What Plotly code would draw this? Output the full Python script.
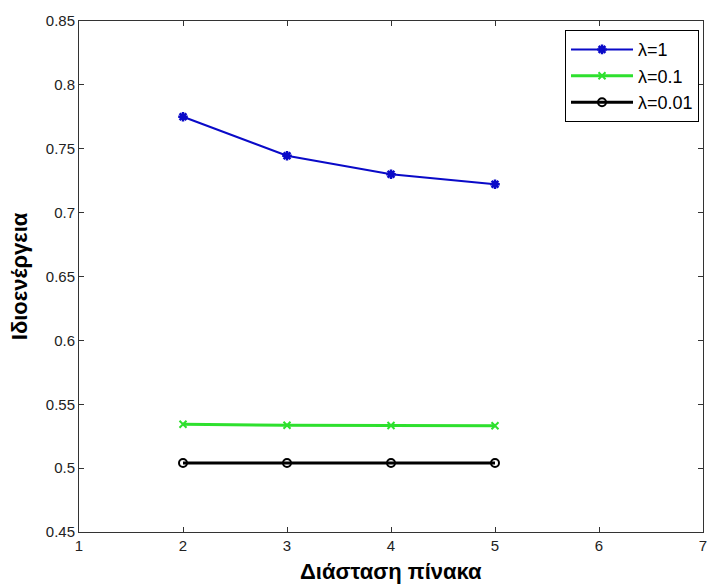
import plotly.graph_objects as go

dims = [2, 3, 4, 5]
lam1 = [0.775, 0.7445, 0.730, 0.7222]
lam01 = [0.5343, 0.5335, 0.5333, 0.5332]
lam001 = [0.5040, 0.5040, 0.5040, 0.5040]
names = ["λ=1", "λ=0.1", "λ=0.01"]
x_ticks = [1, 2, 3, 4, 5, 6, 7]
y_ticks = [0.45, 0.5, 0.55, 0.6, 0.65, 0.7, 0.75, 0.8, 0.85]
y_tick_text = ["0.45", "0.5", "0.55", "0.6", "0.65", "0.7", "0.75", "0.8", "0.85"]

FONT = "Liberation Sans, Arial"

fig = go.Figure()
fig.add_trace(go.Scatter(x=dims, y=lam1, name=names[0], mode="lines+markers", legendgroup="a",
                         line=dict(color="#0a0ac8", width=2),
                         marker=dict(symbol="asterisk-open", size=8, color="#0a0ac8",
                                     line=dict(width=2.5, color="#0a0ac8"))))
fig.add_trace(go.Scatter(x=dims, y=lam01, name=names[1], mode="lines+markers", legendgroup="b",
                         line=dict(color="#2ee02e", width=3),
                         marker=dict(symbol="x-thin-open", size=7, color="#2ee02e",
                                     line=dict(width=2, color="#2ee02e"))))
fig.add_trace(go.Scatter(x=dims, y=lam001, name=names[2], mode="lines+markers", legendgroup="c",
                         line=dict(color="black", width=3),
                         marker=dict(symbol="circle-open", size=8, color="black",
                                     line=dict(width=2, color="black"))))

axis_common = dict(showline=True, linecolor="#333333", linewidth=1, mirror="allticks",
                   ticks="inside", ticklen=5, tickcolor="#333333", showgrid=False,
                   zeroline=False, ticklabeloverflow="allow",
                   tickfont=dict(family=FONT, size=15, color="#222222"))

fig.update_xaxes(range=[1, 7], tickvals=x_ticks, ticktext=[str(v) for v in x_ticks], **axis_common)
fig.update_yaxes(range=[0.45, 0.85], tickvals=y_ticks, ticktext=y_tick_text, **axis_common)

fig.add_annotation(text="<b>Διάσταση πίνακα</b>", xref="paper", yref="paper",
                   x=0.5, y=-0.078, xanchor="center", yanchor="middle", showarrow=False,
                   font=dict(family=FONT, size=22, color="black"))
fig.add_annotation(text="<b>Ιδιοενέργεια</b>", xref="paper", yref="paper",
                   x=-0.095, y=0.5, xanchor="center", yanchor="middle", showarrow=False,
                   textangle=-90, font=dict(family=FONT, size=22, color="black"))

fig.update_layout(
    width=710, height=584,
    margin=dict(l=79, r=3, t=21, b=52),
    paper_bgcolor="white", plot_bgcolor="white",
    font=dict(family=FONT, size=14, color="black"),
    showlegend=True,
    legend=dict(x=0.9936, y=0.982, xanchor="right", yanchor="top",
                bgcolor="white", bordercolor="black", borderwidth=1,
                font=dict(family=FONT, size=18, color="black"), itemwidth=62, tracegroupgap=0),
)

fig.write_html("out.html")
